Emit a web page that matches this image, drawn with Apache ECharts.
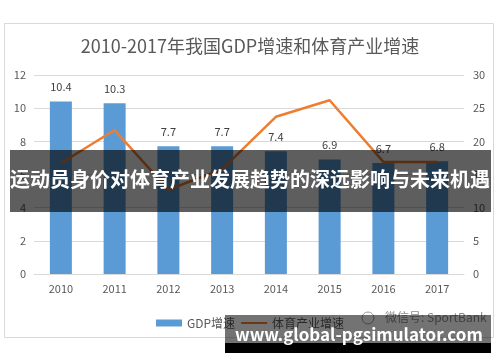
<!DOCTYPE html>
<html><head><meta charset="utf-8">
<script src="https://cdn.jsdelivr.net/npm/echarts@6/dist/echarts.min.js"></script>
<style>html,body{margin:0;padding:0;background:#fff}#c{width:500px;height:362px}</style>
</head><body><div id="c"></div>
<script>
var years = ['2010','2011','2012','2013','2014','2015','2016','2017'];
var gdpGrowth = [10.4, 10.3, 7.7, 7.7, 7.4, 6.9, 6.7, 6.8];
var sportsGrowth = [16.7, 21.7, 12.7, 15.8, 23.7, 26.2, 16.9, 16.9];
var leftTicks = {min: 0, max: 12, interval: 2};
var rightTicks = {min: 0, max: 30, interval: 5};
var titleText = '2010-2017年我国GDP增速和体育产业增速';
var bannerText = '运动员身价对体育产业发展趋势的深远影响与未来机遇';
var siteText = 'www.global-pgsimulator.com';
var watermarkText = '微信号: SportBank';

var font = '"Noto Sans CJK SC", "Noto Sans", sans-serif';
var chart = echarts.init(document.getElementById('c'), null, {renderer: 'canvas'});
chart.setOption({
  backgroundColor: '#fff',
  animation: false,
  textStyle: {fontFamily: font},
  title: {text: titleText, left: 'center', top: 32,
    textStyle: {fontSize: 18, fontWeight: 'normal', color: '#595959', fontFamily: font}},
  grid: {left: 34, right: 36, top: 75, bottom: 88},
  legend: {left: 151, top: 312, itemWidth: 26, itemHeight: 7, itemGap: 5,
    textStyle: {fontSize: 12, color: '#595959', fontFamily: font},
    data: [{name: 'GDP增速', icon: 'rect'},
           {name: '体育产业增速', itemStyle: {opacity: 0}}]},
  xAxis: {type: 'category', data: years,
    axisLine: {lineStyle: {color: '#d9d9d9'}}, axisTick: {show: false},
    axisLabel: {color: '#595959', fontSize: 11, margin: 9}},
  yAxis: [
    {type: 'value', min: leftTicks.min, max: leftTicks.max, interval: leftTicks.interval,
      axisLine: {show: false}, axisTick: {show: false},
      axisLabel: {color: '#595959', fontSize: 11, margin: 8},
      splitLine: {lineStyle: {color: '#d9d9d9'}}},
    {type: 'value', min: rightTicks.min, max: rightTicks.max, interval: rightTicks.interval,
      axisLine: {show: false}, axisTick: {show: false},
      axisLabel: {color: '#595959', fontSize: 11, margin: 9},
      splitLine: {show: false}}
  ],
  series: [
    {name: 'GDP增速', type: 'bar', data: gdpGrowth, barWidth: 22,
      itemStyle: {color: '#5B9BD5'},
      label: {show: true, position: 'top', distance: 9, color: '#404040', fontSize: 11}},
    {name: '体育产业增速', type: 'line', yAxisIndex: 1, data: sportsGrowth,
      symbol: 'none', lineStyle: {color: '#ED7D31', width: 2.5}, itemStyle: {color: '#ED7D31'}}
  ],
  graphic: [
    {type: 'rect', z: -1, shape: {x: 4.5, y: 23.5, width: 489, height: 314},
      style: {fill: '#fff', stroke: '#d9d9d9', lineWidth: 1}},
    {type: 'circle', z: 50, shape: {cx: 368, cy: 318, r: 6}, style: {fill: 'none', stroke: '#999', lineWidth: 1}},
    {type: 'text', z: 50, left: 385, top: 311, style: {text: watermarkText, fill: '#8c8c8c', font: '12px ' + font}},
    {type: 'rect', z: 100, shape: {x: 10, y: 150, width: 481, height: 62}, style: {fill: 'rgba(0,0,0,0.63)'}},
    {type: 'text', z: 101, left: 'center', top: 169, style: {text: bannerText, fill: '#fff', font: 'bold 20px ' + font}},
    {type: 'rect', z: 100, shape: {x: 225, y: 315, width: 266, height: 28}, style: {fill: 'rgba(0,0,0,0.55)'}},
    {type: 'rect', z: 100, shape: {x: 225, y: 343, width: 266, height: 10}, style: {fill: '#000'}},
    {type: 'text', z: 101, left: 235, top: 326, style: {text: siteText, fill: '#fff', font: 'bold 17px ' + font}}
  ]
});
</script></body></html>
